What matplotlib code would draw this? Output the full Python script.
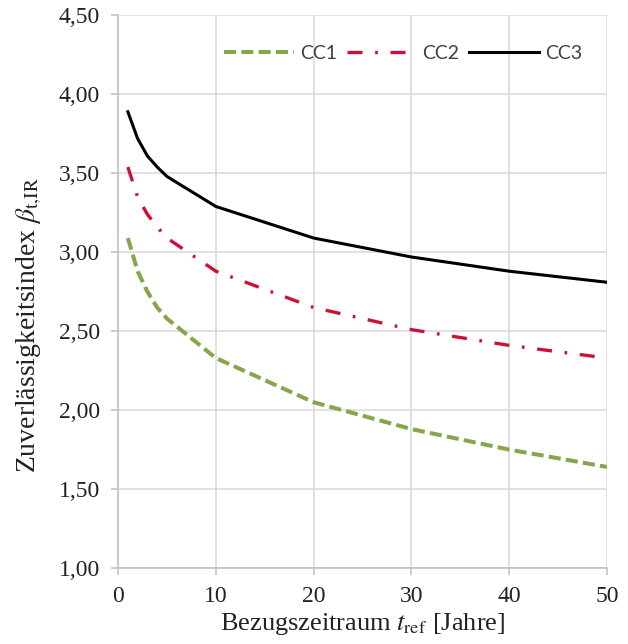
import numpy as np
import matplotlib
matplotlib.use("Agg")
import matplotlib.pyplot as plt
from matplotlib.ticker import FuncFormatter, MultipleLocator

plt.rcParams['font.family'] = ['Liberation Serif', 'DejaVu Serif']
plt.rcParams['mathtext.fontset'] = 'stix'

# Bezugszeitraum [Jahre]
t_ref = [1, 2, 3, 4, 5, 10, 20, 30, 40, 50]

# Zuverlässigkeitsindex je Schadensfolgeklasse
cc1 = [3.09, 2.88, 2.75, 2.65, 2.58, 2.33, 2.05, 1.88, 1.75, 1.64]
cc2 = [3.54, 3.35, 3.24, 3.16, 3.09, 2.88, 2.65, 2.51, 2.41, 2.33]
cc3 = [3.89, 3.72, 3.61, 3.54, 3.48, 3.29, 3.09, 2.97, 2.88, 2.81]

labels = ['CC1', 'CC2', 'CC3']

fig = plt.figure(figsize=(6.28, 6.44), dpi=100)
ax = fig.add_axes([0.188, 0.118, 0.7786, 0.858])

ax.plot(t_ref, cc1, color='#86a64a', lw=2.9, dashes=(3, 1.3), label=labels[0])
ax.plot(t_ref, cc2, color='#cc1038', lw=2.4, dashes=(4.5, 3.8, 0.8, 3.8), label=labels[1])
ax.plot(t_ref, cc3, color='black', lw=2.2, label=labels[2])

ax.set_xlim(0, 50)
ax.set_ylim(1.0, 4.5)
ax.xaxis.set_major_locator(MultipleLocator(10))
ax.yaxis.set_major_locator(MultipleLocator(0.5))
ax.yaxis.set_major_formatter(FuncFormatter(lambda v, p: f"{v:.2f}".replace('.', ',')))

ax.grid(True, color='#d9d9d9', lw=1.1)
ax.set_axisbelow(True)
for s in ['top', 'right']:
    ax.spines[s].set_visible(False)
for s in ['left', 'bottom']:
    ax.spines[s].set_color('#bfbfbf')
    ax.spines[s].set_linewidth(1.1)
ax.tick_params(axis='both', colors='#bfbfbf', labelcolor='#222222', labelsize=17, length=5, width=1.1)
ax.tick_params(axis='y', pad=8)
ax.tick_params(axis='x', pad=8)

ax.set_xlabel(r'Bezugszeitraum $t_{\mathrm{ref}}$ [Jahre]', fontsize=19, color='#222222', labelpad=3)
ax.set_ylabel(r'Zuverlässigkeitsindex $\beta_{\mathrm{t{,}IR}}$', fontsize=20, color='#222222')
ax.yaxis.set_label_coords(-0.152, 0.44)

leg = ax.legend(loc='center', bbox_to_anchor=(0.583, 0.932), ncol=3, frameon=False,
                handlelength=3.6, handletextpad=0.3, columnspacing=0.5,
                prop={'family': 'Lato', 'size': 14})
for t in leg.get_texts():
    t.set_color('#404040')

fig.savefig('out.png', dpi=100)
